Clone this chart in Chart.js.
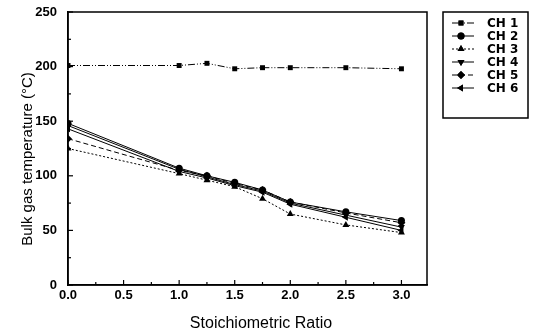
<!DOCTYPE html>
<html><head><meta charset="utf-8">
<script src="https://cdn.jsdelivr.net/npm/chart.js@4"></script>
<style>html,body{margin:0;padding:0;background:#fff}#w{width:533px;height:336px}</style>
</head><body><div id="w"><canvas id="c" width="533" height="336"></canvas></div>
<script>
const ratios = [0.0, 1.0, 1.25, 1.5, 1.75, 2.0, 2.5, 3.0];
const ch1 = [201, 201, 203, 198, 199, 199, 199, 198];
const ch2 = [148, 107, 100, 94, 87, 76, 67, 59];
const ch3 = [125, 102, 96, 90, 79, 65, 55, 48];
const ch4 = [146, 106, 99, 92, 86, 75, 64, 53];
const ch5 = [134, 105, 100, 93, 87, 76, 66, 57];
const ch6 = [143, 104, 98, 91, 85, 74, 62, 50];
const seriesLabels = ['CH 1', 'CH 2', 'CH 3', 'CH 4', 'CH 5', 'CH 6'];
const xTitle = 'Stoichiometric Ratio';
const yTitle = 'Bulk gas temperature (\u00B0C)';

const FONT = "'Liberation Sans', Arial, sans-serif";
const DJV = "'DejaVu Sans', sans-serif";
const styles = [
  {pointStyle:'rect', rotation:0, dash:[7,2,1,2,1,2], r:3.5},
  {pointStyle:'circle', rotation:0, dash:[], r:3.5},
  {pointStyle:'triangle', rotation:0, dash:[2,2], r:4},
  {pointStyle:'triangle', rotation:180, dash:[], r:4},
  {pointStyle:'rectRot', rotation:0, dash:[5,3], r:4},
  {pointStyle:'triangle', rotation:-90, dash:[], r:4}
];
const allSeries = [ch1, ch2, ch3, ch4, ch5, ch6];
const datasets = allSeries.map((vals, i) => ({
  label: seriesLabels[i],
  data: ratios.map((x, j) => ({x: x, y: vals[j]})),
  borderColor: '#000', backgroundColor: '#000',
  borderWidth: 1, borderDash: styles[i].dash,
  pointStyle: styles[i].pointStyle, rotation: styles[i].rotation,
  pointRadius: styles[i].r, pointBorderWidth: 0,
  tension: 0, fill: false
}));

const framePlugin = {
  id: 'frame',
  afterDraw(chart) {
    const ctx = chart.ctx, a = chart.chartArea;
    ctx.save();
    ctx.strokeStyle = '#000';
    ctx.lineWidth = 1.5;
    ctx.setLineDash([]);
    ctx.strokeRect(a.left, a.top, a.right - a.left, a.bottom - a.top);
    // inward ticks
    ctx.lineWidth = 1.2;
    const xs = chart.scales.x, ys = chart.scales.y;
    for (let v = 0; v <= 250.001; v += 25) {
      const p = ys.getPixelForValue(v);
      const len = (Math.round(v) % 50 === 0) ? 5 : 3;
      ctx.beginPath(); ctx.moveTo(a.left, p); ctx.lineTo(a.left + len, p); ctx.stroke();
    }
    for (let v = 0; v <= 3.001; v += 0.25) {
      const p = xs.getPixelForValue(v);
      const len = (Math.round(v * 4) % 2 === 0) ? 5 : 3;
      ctx.beginPath(); ctx.moveTo(p, a.bottom); ctx.lineTo(p, a.bottom - len); ctx.stroke();
    }
    // axis titles
    ctx.fillStyle = '#000';
    ctx.font = '16px ' + FONT;
    ctx.textAlign = 'center';
    ctx.textBaseline = 'middle';
    ctx.fillText(xTitle, 261, 324);
    ctx.save();
    ctx.translate(28, 159);
    ctx.rotate(-Math.PI / 2);
    ctx.font = '15px ' + FONT;
    ctx.fillText(yTitle, 0, 0);
    ctx.restore();
    // legend
    const lx = 443, ly = 12, lw = 85, lh = 106;
    ctx.lineWidth = 1.5;
    ctx.strokeRect(lx, ly, lw, lh);
    ctx.font = 'bold 12px ' + DJV;
    ctx.textAlign = 'left';
    ctx.textBaseline = 'middle';
    chart.data.datasets.forEach((ds, i) => {
      const y = 23 + i * 13;
      ctx.lineWidth = 1;
      ctx.setLineDash(ds.borderDash || []);
      ctx.beginPath(); ctx.moveTo(452, y); ctx.lineTo(474, y); ctx.stroke();
      ctx.setLineDash([]);
      Chart.helpers.drawPoint(ctx, {pointStyle: ds.pointStyle, rotation: ds.rotation, radius: ds.pointRadius, borderWidth: 0}, 461, y);
      ctx.fill();
      ctx.fillText(ds.label, 487, y + 0.5);
    });
    ctx.restore();
  }
};

new Chart(document.getElementById('c'), {
  type: 'line',
  data: { datasets: datasets },
  options: {
    responsive: false, animation: false,
    layout: { padding: { top: 12, right: 106, left: 0, bottom: 0 } },
    plugins: { legend: { display: false }, tooltip: { enabled: false } },
    scales: {
      x: {
        type: 'linear', min: 0, max: 3.23,
        ticks: { stepSize: 0.5, includeBounds: false, color: '#000', padding: 3,
                 font: { family: FONT, size: 13, weight: 'bold' },
                 callback: v => v.toFixed(1) },
        grid: { display: false, drawTicks: false },
        border: { color: '#000', width: 1.5 },
        title: { display: false },
        afterFit: s => { s.height = 51; s.paddingLeft = 0; s.paddingRight = 0; }
      },
      y: {
        min: 0, max: 250,
        ticks: { stepSize: 50, color: '#000', padding: 11,
                 font: { family: FONT, size: 13, weight: 'bold' } },
        grid: { display: false, drawTicks: false },
        border: { color: '#000', width: 1.5 },
        title: { display: false },
        afterFit: s => { s.width = 68; s.paddingTop = 0; s.paddingBottom = 0; }
      }
    }
  },
  plugins: [framePlugin]
});
</script></body></html>
